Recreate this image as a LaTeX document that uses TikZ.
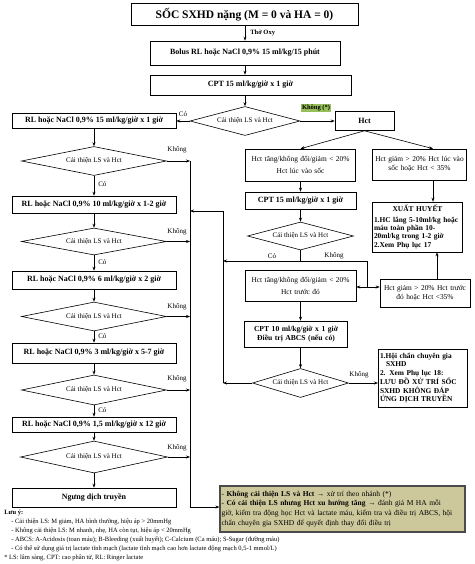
\documentclass[tikz,border=0pt]{standalone}
\usepackage{fontspec}
\setmainfont{Liberation Serif}
\usepackage{tikz}
\usetikzlibrary{shapes.geometric, arrows.meta}

\definecolor{khaki}{RGB}{205,200,155}
\definecolor{kgreen}{RGB}{150,190,90}
\definecolor{edgegray}{RGB}{75,75,75}

% stretch one line of a box to its full width
\newcommand{\jline}[1]{\makebox[\linewidth][s]{#1}}

\begin{document}
\begin{tikzpicture}[x=1pt, y=-1pt, line width=0.6pt,
  box/.style={draw, inner sep=1.5pt, align=center, font=\fontsize{8}{9.4}\selectfont\bfseries},
  tbox/.style={box, font=\fontsize{7.4}{9}\selectfont},
  dec/.style={diamond, draw, aspect=5, inner sep=0pt, font=\fontsize{7}{8}\selectfont},
  lab/.style={inner sep=1pt, font=\fontsize{7}{8}\selectfont},
  arr/.style={-{Stealth[length=4pt, width=3pt]}}]

\useasboundingbox (0,0) rectangle (474,564);

% draw top of the chart
\node[box, line width=1pt, minimum width=227pt, minimum height=22pt, font=\fontsize{11.5}{13}\selectfont\bfseries] (title) at (244.5,15) {SỐC SXHD nặng (M = 0 và HA = 0)};
\node[box, minimum width=190pt, minimum height=24pt] (bolus) at (245,53) {Bolus RL hoặc NaCl 0,9\% 15 ml/kg/15 phút};
\node[box, minimum width=201pt, minimum height=20pt] (cpt1) at (250.5,85) {CPT 15 ml/kg/giờ x 1 giờ};
\node[dec, minimum width=110pt, minimum height=29pt] (d0) at (245,121) {Cải thiện LS và Hct};

\draw[arr] (title.south -| bolus.north) -- (bolus.north);
\node[lab, anchor=west, font=\fontsize{6.5}{8}\selectfont\bfseries] (oxy) at (249,33) {Thở Oxy};
\draw[arr] (bolus.south) -- (bolus.south |- cpt1.north);
\draw[arr] (d0.north |- cpt1.south) -- (d0.north);

% draw left column
\node[box, minimum width=164pt, minimum height=15pt] (rl1) at (94,121) {RL hoặc NaCl 0,9\% 15 ml/kg/giờ x 1 giờ};
\node[dec, minimum width=145pt, minimum height=29pt] (dl1) at (94,161) {Cải thiện LS và Hct};
\node[box, minimum width=164pt, minimum height=17pt] (rl2) at (94,204.5) {RL hoặc NaCl 0,9\% 10 ml/kg/giờ x 1-2 giờ};
\node[dec, minimum width=145pt, minimum height=27pt] (dl2) at (94,241.5) {Cải thiện LS và Hct};
\node[box, minimum width=164pt, minimum height=18pt] (rl3) at (94,280) {RL hoặc NaCl 0,9\% 6 ml/kg/giờ x 2 giờ};
\node[dec, minimum width=145pt, minimum height=29pt] (dl3) at (94,316.5) {Cải thiện LS và Hct};
\node[box, minimum width=164pt, minimum height=20pt] (rl4) at (94,353) {RL hoặc NaCl 0,9\% 3 ml/kg/giờ x 5-7 giờ};
\node[dec, minimum width=145pt, minimum height=30pt] (dl4) at (94,390) {Cải thiện LS và Hct};
\node[box, minimum width=164pt, minimum height=15pt] (rl5) at (94,424.5) {RL hoặc NaCl 0,9\% 1,5 ml/kg/giờ x 12 giờ};
\node[dec, minimum width=147pt, minimum height=32pt] (dl5) at (94,457) {Cải thiện LS và Hct};
\node[box, minimum width=164pt, minimum height=19pt] (stop) at (94,497.5) {Ngưng dịch truyền};

\draw[arr] (d0.west) -- (rl1.east);
\node[lab] (co0) at (183,114) {Có};
\draw[arr] (rl1.south) -- (dl1.north);
\draw[arr] (dl1.south) -- (rl2.north);
\draw[arr] (rl2.south) -- (dl2.north);
\draw[arr] (dl2.south) -- (rl3.north);
\draw[arr] (rl3.south) -- (dl3.north);
\draw[arr] (dl3.south) -- (rl4.north);
\draw[arr] (rl4.south) -- (dl4.north);
\draw[arr] (dl4.south) -- (rl5.north);
\draw[arr] (rl5.south) -- (dl5.north);
\draw[arr] (dl5.south) -- (stop.north);
\node[lab, anchor=west] (co1) at (97,184) {Có};
\node[lab, anchor=west] (co2) at (97,262) {Có};
\node[lab, anchor=west] (co3) at (97,336) {Có};
\node[lab, anchor=west] (co4) at (97,410) {Có};

% draw the 'Không' line on the left
\coordinate (bt) at (190,161);
\coordinate (bb) at (190,507);
\draw (bt) -- (bb);
\foreach \d in {dl1, dl2, dl3, dl4, dl5}
  \draw[arr] (\d.east) -- (\d.east -| bt);
\node[lab] (kh1) at (177,150) {Không};
\node[lab] (kh2) at (177,232) {Không};
\node[lab] (kh3) at (177,307) {Không};
\node[lab] (kh4) at (177,379) {Không};
\node[lab] (kh5) at (177,448) {Không};

% draw right column
\node[box, minimum width=59pt, minimum height=19pt] (hct) at (364.5,121) {Hct};
\draw[arr] (d0.east) -- (hct.west);
\node[lab, fill=kgreen, font=\fontsize{6.5}{8}\selectfont\bfseries] (kno) at (316,108) {Không (*)};

\node[tbox, text width=107pt, minimum height=32pt] (hcta) at (300.5,165) {Hct tăng/không đổi/giảm < 20\%\\[3pt] Hct lúc vào sốc};
\node[tbox, text width=92pt, inner sep=1pt, minimum height=31pt] (hctb) at (419.5,164.5) {Hct giảm > 20\% Hct lúc vào\\ sốc hoặc Hct < 35\%};
\draw[arr] (hct.south) -- (hcta.north);
\draw[arr] (hct.south) -- ([xshift=13.5pt]hctb.north);

\node[box, minimum width=111pt, minimum height=17pt] (cpt2) at (300.5,200.5) {CPT 15 ml/kg/giờ x 1 giờ};
\node[dec, minimum width=106pt, minimum height=28pt] (dr2) at (300.5,236) {Cải thiện LS và Hct};
\draw[arr] (hcta.south) -- (cpt2.north);
\draw[arr] (cpt2.south) -- (dr2.north);

\node[tbox, text width=108pt, minimum height=31pt] (hctc) at (300.5,285.5) {Hct tăng/không đổi/giảm < 20\%\\[3pt] Hct trước đó};
\node[tbox, text width=88pt, inner sep=1pt, minimum height=28pt] (hctd) at (425,293) {Hct giảm > 20\% Hct trước\\ đó hoặc Hct <35\%};

% draw the split under the second diamond
\coordinate (jl) at (223,211);
\coordinate (j2) at (300.5,261);
\coordinate (j3) at (367,287);
\draw (dr2.south) -- (j2);
\draw[arr] (j2) -- (j2 -| jl);
\draw (j2) -| (j3);
\draw[arr] (j3) -- (j3 -| hctc.east);
\draw[arr] (j3) -- (j3 -| hctd.west);
\node[lab] (co5) at (272,256) {Có};
\node[lab] (kh6) at (334,256) {Không};

% draw bleeding box
\node[box, text width=87pt, minimum height=50pt, align=left, font=\fontsize{7.4}{8.3}\selectfont\bfseries] (bleed) at (417.5,227) {\makebox[\linewidth][c]{XUẤT HUYẾT}\\[2pt]
  \jline{1.HC lắng 5-10ml/kg hoặc}\\
  \jline{máu toàn phần 10-}\\
  20ml/kg trong 1-2 giờ\\
  2.Xem Phụ lục 17};
\draw[arr] ([xshift=13.5pt]hctb.south) -- ([xshift=13.5pt]hctb.south |- bleed.north);
\draw[arr] ([xshift=12pt]hctd.north) -- ([xshift=12pt]hctd.north |- bleed.south);

% draw lower right part
\node[box, text width=100pt, minimum height=26pt, font=\fontsize{7.6}{9.6}\selectfont\bfseries] (cpt3) at (296,334) {CPT 10 ml/kg/giờ x 1 giờ\\ Điều trị ABCS (nếu có)};
\node[dec, minimum width=96pt, minimum height=29pt] (dr3) at (300.5,383) {Cải thiện LS và Hct};
\draw[arr] (hctc.south) -- (hctc.south |- cpt3.north);
\draw[arr] (dr3.north |- cpt3.south) -- (dr3.north);

\node[box, line width=1pt, text width=86pt, minimum height=58pt, align=left, font=\fontsize{7.4}{8.7}\selectfont\bfseries] (expert) at (423,378) {\jline{1.Hội chẩn chuyên gia}\\
  \hspace*{6pt}SXHD\\
  \jline{2. Xem Phụ lục 18:}\\
  \jline{LƯU ĐỒ XỬ TRÍ SỐC}\\
  \jline{SXHD KHÔNG ĐÁP}\\
  ỨNG DỊCH TRUYỀN};
\draw[arr] (dr3.east) -- (dr3.east -| expert.west);
\node[lab] (kh7) at (359,375) {Không};

% draw way back to the left column
\draw[arr] (dr3.west) -- (dr3.west -| jl);
\draw (jl) -- (dr3.west -| jl);
\draw[arr] (jl) -- (jl -| bt);

% draw note box
\node[box, fill=khaki, draw=edgegray, line width=1.2pt, text width=242pt, minimum height=46pt, align=left, font=\fontsize{7.5}{9.7}\selectfont] (ybox) at (342.5,509) {- \textbf{Không cải thiện LS và Hct →} xử trí theo nhánh (*)\\
  \jline{- \textbf{Có cải thiện LS nhưng Hct xu hướng tăng →} đánh giá M HA mỗi}\\
  \jline{giờ, kiểm tra động học Hct và lactate máu, kiểm tra và điều trị ABCS, hội}\\
  chẩn chuyên gia SXHD để quyết định thay đổi điều trị};
\draw[arr] (bb) -- (bb -| ybox.west);

% draw remarks
\node[anchor=north west, align=left, inner sep=0pt, font=\fontsize{6.5}{9}\selectfont] (notes) at (4,510) {\textbf{Lưu ý:}\\
  \hspace*{7pt}- Cải thiện LS: M giảm, HA bình thường, hiệu áp > 20mmHg\\
  \hspace*{7pt}- Không cải thiện LS: M nhanh, nhẹ, HA còn tụt, hiệu áp < 20mmHg\\
  \hspace*{7pt}- ABCS: A-Acidosis (toan máu); B-Bleeding (xuất huyết); C-Calcium (Ca máu); S-Sugar (đường máu)\\
  \hspace*{7pt}- Có thể sử dụng giá trị lactate tĩnh mạch (lactate tĩnh mạch cao hơn lactate động mạch 0,5-1 mmol/L)\\
  * LS: lâm sàng, CPT: cao phân tử, RL: Ringer lactate};

\end{tikzpicture}
\end{document}
